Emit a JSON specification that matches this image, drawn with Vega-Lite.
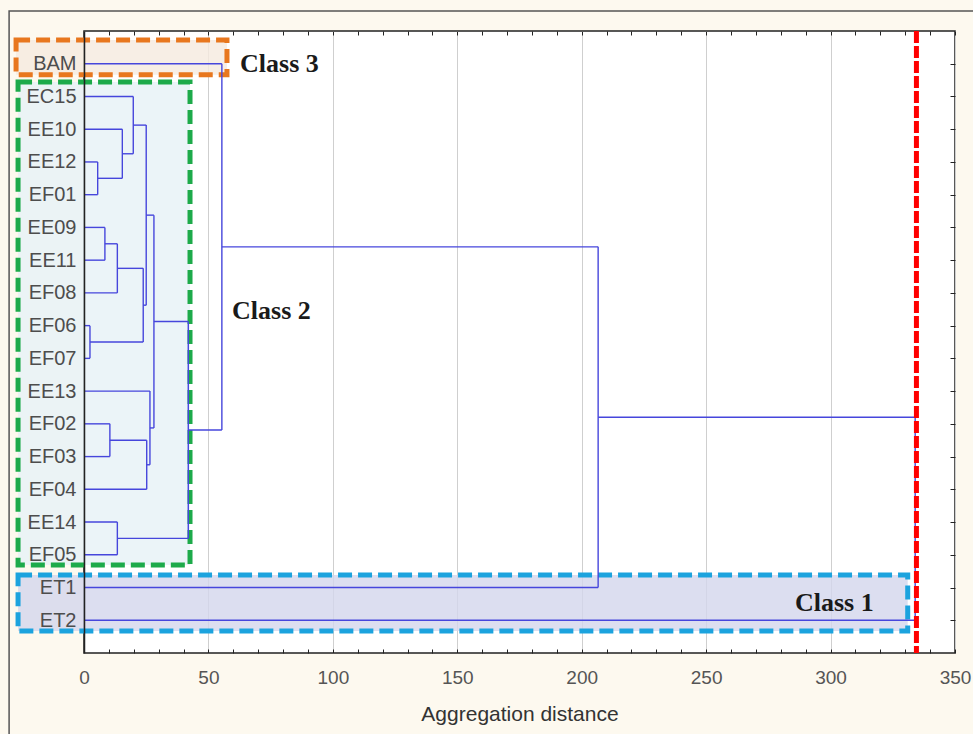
{
  "$schema": "https://vega.github.io/schema/vega-lite/v6.json",
  "width": 871,
  "height": 622,
  "autosize": {"type": "none"},
  "padding": {"left": 84, "top": 31, "right": 18, "bottom": 81},
  "background": "#FDF9EF",
  "config": {
    "view": {"fill": "white", "stroke": "#222222", "strokeWidth": 1.5},
    "font": "Liberation Sans"
  },
  "datasets": {
    "frame": [{"x": -30.1, "x2": 420, "y": -0.61, "y2": 30}],
    "boxes": [
      {"cls": "Class 3", "x": -27.3, "x2": 57.45, "y": 0.275, "y2": 1.34},
      {"cls": "Class 2", "x": -26.5, "x2": 42.6, "y": 1.56, "y2": 16.31},
      {"cls": "Class 1", "x": -26.5, "x2": 331.0, "y": 16.62, "y2": 18.33}
    ],
    "segments": [
      {"x": 0, "x2": 5.5, "y": 4, "y2": 4},
      {"x": 0, "x2": 5.5, "y": 5, "y2": 5},
      {"x": 5.5, "x2": 5.5, "y": 4, "y2": 5},
      {"x": 0, "x2": 15.4, "y": 3, "y2": 3},
      {"x": 5.5, "x2": 15.4, "y": 4.5, "y2": 4.5},
      {"x": 15.4, "x2": 15.4, "y": 3, "y2": 4.5},
      {"x": 0, "x2": 19.8, "y": 2, "y2": 2},
      {"x": 15.4, "x2": 19.8, "y": 3.75, "y2": 3.75},
      {"x": 19.8, "x2": 19.8, "y": 2, "y2": 3.75},
      {"x": 0, "x2": 8.4, "y": 6, "y2": 6},
      {"x": 0, "x2": 8.4, "y": 7, "y2": 7},
      {"x": 8.4, "x2": 8.4, "y": 6, "y2": 7},
      {"x": 8.4, "x2": 13.4, "y": 6.5, "y2": 6.5},
      {"x": 0, "x2": 13.4, "y": 8, "y2": 8},
      {"x": 13.4, "x2": 13.4, "y": 6.5, "y2": 8},
      {"x": 0, "x2": 2.4, "y": 9, "y2": 9},
      {"x": 0, "x2": 2.4, "y": 10, "y2": 10},
      {"x": 2.4, "x2": 2.4, "y": 9, "y2": 10},
      {"x": 13.4, "x2": 23.8, "y": 7.25, "y2": 7.25},
      {"x": 2.4, "x2": 23.8, "y": 9.5, "y2": 9.5},
      {"x": 23.8, "x2": 23.8, "y": 7.25, "y2": 9.5},
      {"x": 19.8, "x2": 25.0, "y": 2.875, "y2": 2.875},
      {"x": 23.8, "x2": 25.0, "y": 8.375, "y2": 8.375},
      {"x": 25.0, "x2": 25.0, "y": 2.875, "y2": 8.375},
      {"x": 0, "x2": 10.4, "y": 12, "y2": 12},
      {"x": 0, "x2": 10.4, "y": 13, "y2": 13},
      {"x": 10.4, "x2": 10.4, "y": 12, "y2": 13},
      {"x": 10.4, "x2": 25.2, "y": 12.5, "y2": 12.5},
      {"x": 0, "x2": 25.2, "y": 14, "y2": 14},
      {"x": 25.2, "x2": 25.2, "y": 12.5, "y2": 14},
      {"x": 0, "x2": 26.5, "y": 11, "y2": 11},
      {"x": 25.2, "x2": 26.5, "y": 13.25, "y2": 13.25},
      {"x": 26.5, "x2": 26.5, "y": 11, "y2": 13.25},
      {"x": 25.0, "x2": 28.1, "y": 5.625, "y2": 5.625},
      {"x": 26.5, "x2": 28.1, "y": 12.125, "y2": 12.125},
      {"x": 28.1, "x2": 28.1, "y": 5.625, "y2": 12.125},
      {"x": 0, "x2": 13.4, "y": 15, "y2": 15},
      {"x": 0, "x2": 13.4, "y": 16, "y2": 16},
      {"x": 13.4, "x2": 13.4, "y": 15, "y2": 16},
      {"x": 28.1, "x2": 41.9, "y": 8.875, "y2": 8.875},
      {"x": 13.4, "x2": 41.9, "y": 15.5, "y2": 15.5},
      {"x": 41.9, "x2": 41.9, "y": 8.875, "y2": 15.5},
      {"x": 0, "x2": 55.4, "y": 1, "y2": 1},
      {"x": 41.9, "x2": 55.4, "y": 12.1875, "y2": 12.1875},
      {"x": 55.4, "x2": 55.4, "y": 1, "y2": 12.1875},
      {"x": 55.4, "x2": 206.6, "y": 6.594, "y2": 6.594},
      {"x": 0, "x2": 206.6, "y": 17, "y2": 17},
      {"x": 206.6, "x2": 206.6, "y": 6.594, "y2": 17},
      {"x": 206.6, "x2": 334, "y": 11.797, "y2": 11.797},
      {"x": 0, "x2": 334, "y": 18, "y2": 18},
      {"x": 334, "x2": 334, "y": 11.797, "y2": 18}
    ],
    "cut": [{"x": 334.5}],
    "classLabels": [
      {"cls": "Class 3", "x": 62.7, "y": 1.0},
      {"cls": "Class 2", "x": 59.5, "y": 8.55},
      {"cls": "Class 1", "x": 285.7, "y": 17.47}
    ]
  },
  "layer": [
    {
      "data": {"name": "frame"},
      "mark": {"type": "rect", "fill": null, "fillOpacity": 0, "stroke": "#555555", "strokeWidth": 1.5},
      "encoding": {
        "x": {"field": "x", "type": "quantitative", "scale": {"domain": [0, 350], "nice": false, "zero": false}, "axis": null},
        "x2": {"field": "x2"},
        "y": {"field": "y", "type": "quantitative", "scale": {"domain": [0, 19], "nice": false, "zero": false, "reverse": true}, "axis": null},
        "y2": {"field": "y2"}
      }
    },
    {
      "data": {"name": "boxes"},
      "mark": {"type": "rect", "fillOpacity": 0.8, "strokeWidth": 5, "strokeDash": [14, 6]},
      "encoding": {
        "x": {"field": "x", "type": "quantitative", "scale": {"domain": [0, 350], "nice": false, "zero": false},
          "axis": {"orient": "top", "values": [0,10,20,30,40,50,60,70,80,90,100,110,120,130,140,150,160,170,180,190,200,210,220,230,240,250,260,270,280,290,300,310,320,330,340,350], "labels": false, "title": null, "tickSize": -4, "tickColor": "#222222", "domain": false, "grid": false}},
        "x2": {"field": "x2"},
        "y": {"field": "y", "type": "quantitative", "scale": {"domain": [0, 19], "nice": false, "zero": false, "reverse": true},
          "axis": {"orient": "right", "values": [1,2,3,4,5,6,7,8,9,10,11,12,13,14,15,16,17,18], "labels": false, "title": null, "tickSize": -5, "tickColor": "#222222", "domain": false, "grid": false}},
        "y2": {"field": "y2"},
        "fill": {"field": "cls", "type": "nominal", "legend": null,
          "scale": {"domain": ["Class 3", "Class 2", "Class 1"], "range": ["#F5EADF", "#E6F1F6", "#D3D6EC"]}},
        "stroke": {"field": "cls", "type": "nominal", "legend": null,
          "scale": {"domain": ["Class 3", "Class 2", "Class 1"], "range": ["#E8771E", "#1DAA4A", "#1CA3DE"]}}
      }
    },
    {
      "data": {"name": "segments"},
      "mark": {"type": "rule", "color": "#4646DC", "strokeWidth": 1.4},
      "encoding": {
        "x": {"field": "x", "type": "quantitative", "scale": {"domain": [0, 350], "nice": false, "zero": false},
          "axis": {"orient": "bottom", "values": [0,10,20,30,40,50,60,70,80,90,100,110,120,130,140,150,160,170,180,190,200,210,220,230,240,250,260,270,280,290,300,310,320,330,340,350],
            "labelExpr": "datum.value % 50 === 0 ? datum.label : ''", "labelOverlap": false, "labelFlush": false,
            "labelFontSize": 19, "labelColor": "#555555", "labelPadding": 19,
            "tickSize": -4, "tickColor": "#222222", "domain": false,
            "grid": true, "gridColor": "#CFCFCF", "gridWidth": 1,
            "gridOpacity": {"condition": {"test": "datum.value % 50 === 0", "value": 1}, "value": 0},
            "title": "Aggregation distance", "titleFontSize": 21, "titleFontWeight": "normal", "titleColor": "#333333", "titlePadding": 16}},
        "x2": {"field": "x2"},
        "y": {"field": "y", "type": "quantitative", "scale": {"domain": [0, 19], "nice": false, "zero": false, "reverse": true},
          "axis": {"orient": "left", "zindex": 1, "values": [1,2,3,4,5,6,7,8,9,10,11,12,13,14,15,16,17,18],
            "labelExpr": "['','BAM','EC15','EE10','EE12','EF01','EE09','EE11','EF08','EF06','EF07','EE13','EF02','EF03','EF04','EE14','EF05','ET1','ET2'][datum.value]",
            "labelFontSize": 20, "labelColor": "#4D4D4D", "labelPadding": 8, "labelOverlap": false, "labelFlush": false,
            "ticks": false, "domain": true, "domainColor": "#222222", "domainWidth": 1.5, "grid": false, "title": null}},
        "y2": {"field": "y2"}
      }
    },
    {
      "data": {"name": "cut"},
      "mark": {"type": "rule", "color": "#FF0000", "strokeWidth": 5, "strokeDash": [12, 3]},
      "encoding": {
        "x": {"field": "x", "type": "quantitative", "scale": {"domain": [0, 350], "nice": false, "zero": false}, "axis": null}
      }
    },
    {
      "data": {"name": "classLabels"},
      "mark": {"type": "text", "font": "Liberation Serif", "fontWeight": "bold", "fontSize": 26, "align": "left", "baseline": "middle", "color": "#1A1A1A"},
      "encoding": {
        "x": {"field": "x", "type": "quantitative", "scale": {"domain": [0, 350], "nice": false, "zero": false}, "axis": null},
        "y": {"field": "y", "type": "quantitative", "scale": {"domain": [0, 19], "nice": false, "zero": false, "reverse": true}, "axis": null},
        "text": {"field": "cls"}
      }
    }
  ]
}
